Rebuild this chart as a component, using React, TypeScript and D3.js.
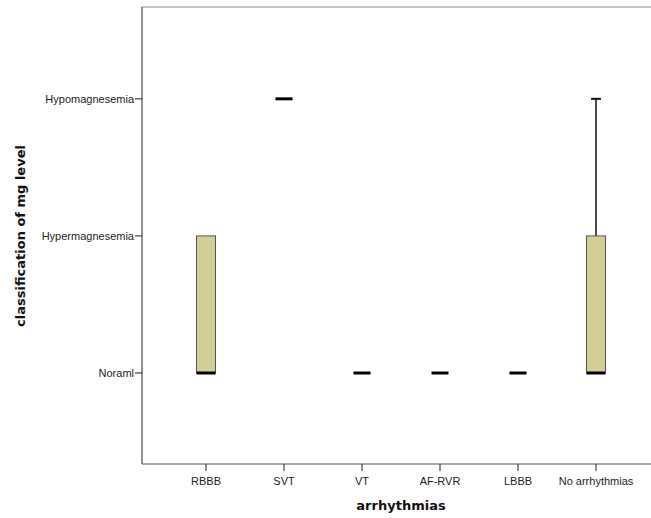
import React from "react";
import * as d3 from "d3";

const categories = ["RBBB", "SVT", "VT", "AF-RVR", "LBBB", "No arrhythmias"];
const levelLabels = ["Noraml", "Hypermagnesemia", "Hypomagnesemia"];
const levelValues = [1, 2, 3];
// box stats per category: [min, q1, median, q3, max]
const boxMin = [1, 3, 1, 1, 1, 1];
const boxQ1 = [1, 3, 1, 1, 1, 1];
const boxMedian = [1, 3, 1, 1, 1, 1];
const boxQ3 = [2, 3, 1, 1, 1, 2];
const boxMax = [2, 3, 1, 1, 1, 3];

export default function App() {
  const W = 651, H = 518;
  const left = 142, top = 7, bottom = 464;
  const x = d3.scalePoint<string>().domain(categories).range([206, 596]);
  const y = d3.scaleLinear().domain([0.336, 3.67]).range([bottom, top]);
  const bw = 19;
  const font = "'Liberation Sans', Arial, sans-serif";
  return (
    <svg width={W} height={H} style={{ position: "absolute", left: 0, top: 0, background: "#fff" }}>
      <rect x={0} y={0} width={W} height={H} fill="#fff" />
      {/* frame */}
      <line x1={left} y1={top} x2={W} y2={top} stroke="#888" strokeWidth={1} />
      <line x1={left} y1={top} x2={left} y2={bottom} stroke="#222" strokeWidth={1} />
      <line x1={left} y1={bottom} x2={W} y2={bottom} stroke="#555" strokeWidth={1} />
      {/* y ticks */}
      {levelValues.map((v, i) => (
        <g key={v}>
          <line x1={left - 7} x2={left} y1={y(v)} y2={y(v)} stroke="#222" />
          <text x={left - 8} y={y(v)} dy="0.35em" textAnchor="end" fontSize={11} fontFamily={font} fill="#222">
            {levelLabels[i]}
          </text>
        </g>
      ))}
      {/* x ticks */}
      {categories.map((c) => (
        <g key={c}>
          <line x1={x(c)} x2={x(c)} y1={bottom} y2={bottom + 7} stroke="#222" />
          <text x={x(c)} y={bottom + 21} textAnchor="middle" fontSize={11} fontFamily={font} fill="#222">
            {c}
          </text>
        </g>
      ))}
      {/* boxes */}
      {categories.map((c, i) => {
        const cx = x(c)!;
        const hasBox = boxQ3[i] !== boxQ1[i];
        return (
          <g key={"b" + c}>
            {boxMax[i] > boxQ3[i] && (
              <>
                <line x1={cx} x2={cx} y1={y(boxQ3[i])} y2={y(boxMax[i])} stroke="#111" strokeWidth={1.5} />
                <line x1={cx - 5} x2={cx + 5} y1={y(boxMax[i])} y2={y(boxMax[i])} stroke="#111" strokeWidth={2} />
              </>
            )}
            {boxMin[i] < boxQ1[i] && (
              <>
                <line x1={cx} x2={cx} y1={y(boxQ1[i])} y2={y(boxMin[i])} stroke="#111" strokeWidth={1.5} />
                <line x1={cx - 5} x2={cx + 5} y1={y(boxMin[i])} y2={y(boxMin[i])} stroke="#111" strokeWidth={2} />
              </>
            )}
            {hasBox && (
              <rect
                x={cx - bw / 2}
                y={y(boxQ3[i])}
                width={bw}
                height={y(boxQ1[i]) - y(boxQ3[i])}
                fill="#d3ce97"
                stroke="#555"
                strokeWidth={1}
              />
            )}
            <line
              x1={cx - bw / 2 + (hasBox ? 0 : 1)}
              x2={cx + bw / 2 - (hasBox ? 0 : 1)}
              y1={y(boxMedian[i])}
              y2={y(boxMedian[i])}
              stroke="#000"
              strokeWidth={3}
            />
          </g>
        );
      })}
      {/* axis titles */}
      <text x={401} y={510} textAnchor="middle" fontSize={13} fontWeight="bold" fontFamily="'DejaVu Sans', sans-serif" fill="#111">
        arrhythmias
      </text>
      <text
        transform={`translate(25,236) rotate(-90)`}
        textAnchor="middle"
        fontSize={13}
        fontWeight="bold"
        fontFamily="'DejaVu Sans', sans-serif"
        fill="#111"
      >
        classification of mg level
      </text>
    </svg>
  );
}
